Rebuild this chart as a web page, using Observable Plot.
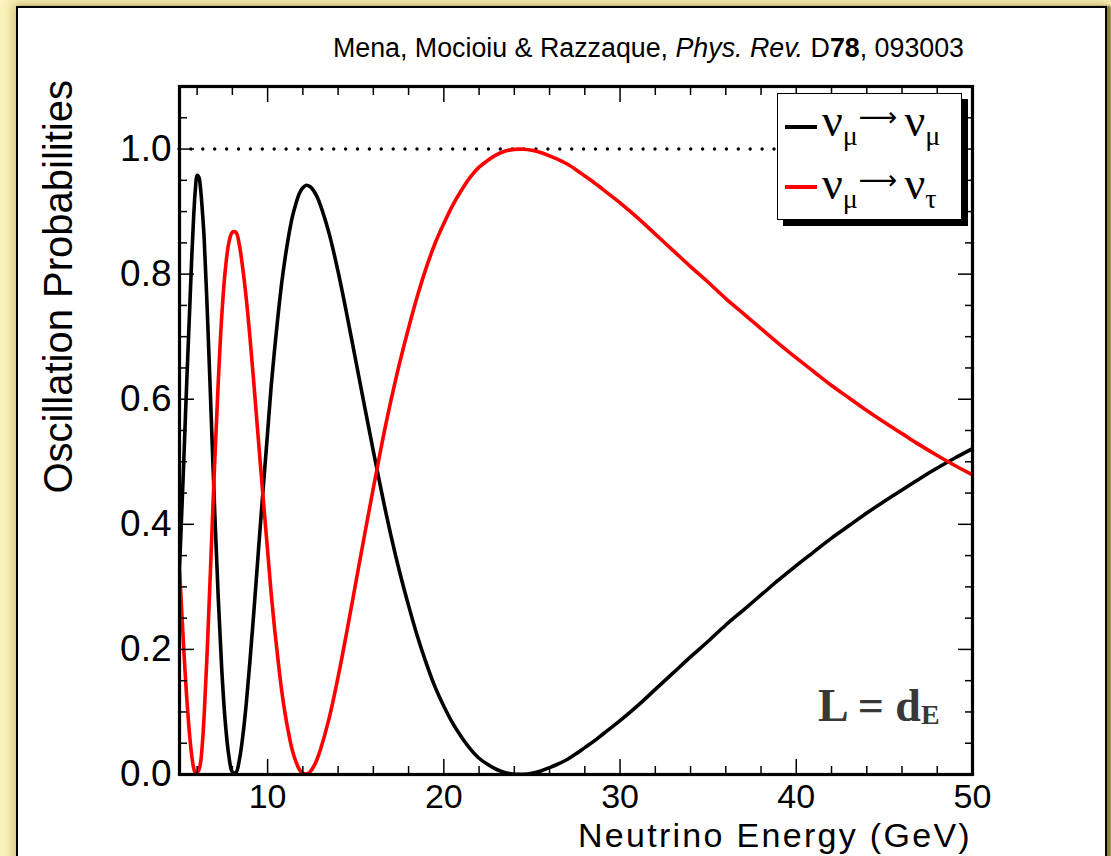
<!DOCTYPE html>
<html><head><meta charset="utf-8">
<script src="https://cdn.jsdelivr.net/npm/d3@7"></script>
<script src="https://cdn.jsdelivr.net/npm/@observablehq/plot@0.6"></script>
<style>
html,body{margin:0;padding:0;width:1111px;height:856px;overflow:hidden;background:#fcf3bd;font-family:"Liberation Sans",Arial,sans-serif;}
#panel{position:absolute;left:16px;top:6px;width:1087px;height:900px;background:#fff;border:2px solid #000;box-shadow:0 0 10px 3px rgba(170,150,60,0.55),4px 0 2px rgba(90,80,40,0.8);}
#chart{position:absolute;left:0;top:0;}
#cite{position:absolute;right:147px;top:35px;font-size:26.8px;line-height:26.8px;white-space:nowrap;color:#000;}
#ytitle{position:absolute;left:0;top:0;width:500px;height:40px;line-height:40px;font-size:40px;text-align:right;transform-origin:0 0;transform:translate(38px,580px) rotate(-90deg);white-space:nowrap;}
#xtitle{position:absolute;right:139px;top:820px;font-size:34px;letter-spacing:2.3px;line-height:30px;white-space:nowrap;}
#legend{position:absolute;left:777px;top:93px;width:183px;height:125px;border:1.5px solid #000;background:#fff;box-shadow:6px 6px 0 #000;}
.row{position:absolute;left:0;height:46px;line-height:46px;white-space:nowrap;font-family:"Liberation Serif","Times New Roman",serif;font-size:46px;}
.sw{position:absolute;left:7px;width:32px;height:4px;}
.txt{position:absolute;left:44px;top:0;}
.sub{font-size:28px;position:relative;top:9px;}
.arr{display:inline-block;font-family:"DejaVu Sans",sans-serif;font-size:27px;position:relative;top:-10px;margin-left:1px;margin-right:7px;}
#ld{position:absolute;left:818px;top:683px;font-family:"Liberation Serif",serif;font-weight:bold;font-size:46px;line-height:46px;color:#383838;white-space:nowrap;}
#ld .e{font-size:28px;position:relative;top:3px;}
</style></head>
<body>
<div id="panel"></div>
<div id="chart"></div>
<div id="cite">Mena, Mocioiu &amp; Razzaque, <i>Phys. Rev.</i> D<b>78</b>, 093003</div>
<div id="ytitle">Oscillation Probabilities</div>
<div id="xtitle">Neutrino Energy (GeV)</div>
<div id="legend">
  <div class="row" style="top:4px"><span class="sw" style="top:27px;background:#000"></span><span class="txt">ν<span class="sub">μ</span><span class="arr">⟶</span>ν<span class="sub">μ</span></span></div>
  <div class="row" style="top:67px"><span class="sw" style="top:24px;background:#ff0000"></span><span class="txt">ν<span class="sub">μ</span><span class="arr">⟶</span>ν<span class="sub">τ</span></span></div>
</div>
<div id="ld">L = d<span class="e">E</span></div>
<script>
const energy = [5.0,5.1,5.2,5.3,5.4,5.5,5.6,5.7,5.8,5.9,6.0,6.1,6.2,6.3,6.4,6.6,6.8,7.0,7.2,7.4,7.6,7.8,8.0,8.2,8.4,8.6,8.8,9.0,9.2,9.4,9.6,9.8,10.0,10.2,10.4,10.6,10.8,11.0,11.2,11.4,11.6,11.8,12.0,12.2,12.4,12.6,12.8,13.0,13.5,14,14.5,15,15.5,16,16.5,17,17.5,18,18.5,19,19.5,20,20.5,21,21.5,22,22.5,23,23.5,24,24.5,25,25.5,26,26.5,27,27.5,28,28.5,29,29.5,30,31,32,33,34,35,36,37,38,39,40,41,42,43,44,45,46,47,48,49,50];
const pMuMu = [0.33,0.40,0.47,0.545,0.62,0.69,0.76,0.83,0.89,0.935,0.958,0.955,0.935,0.90,0.857,0.724,0.572,0.419,0.282,0.167,0.083,0.030,0.004,0.003,0.024,0.063,0.117,0.182,0.253,0.328,0.403,0.476,0.547,0.620,0.681,0.736,0.786,0.827,0.862,0.891,0.912,0.929,0.938,0.942,0.940,0.934,0.924,0.910,0.864,0.804,0.735,0.662,0.589,0.517,0.447,0.382,0.323,0.270,0.221,0.178,0.140,0.109,0.082,0.060,0.041,0.026,0.016,0.008,0.003,0.0005,0.0003,0.002,0.0055,0.011,0.017,0.024,0.033,0.043,0.053,0.064,0.075,0.086,0.110,0.136,0.162,0.188,0.213,0.239,0.263,0.287,0.311,0.334,0.356,0.378,0.398,0.418,0.437,0.455,0.473,0.490,0.506,0.521];
const pMuTau = [0.33,0.275,0.222,0.172,0.127,0.088,0.055,0.029,0.011,0.002,0.003,0.007,0.02,0.05,0.095,0.216,0.358,0.501,0.628,0.734,0.807,0.850,0.867,0.867,0.846,0.807,0.758,0.698,0.632,0.562,0.492,0.424,0.358,0.290,0.232,0.181,0.134,0.096,0.065,0.039,0.021,0.008,0.002,0.001,0.004,0.012,0.024,0.040,0.091,0.156,0.229,0.306,0.383,0.458,0.531,0.598,0.659,0.714,0.765,0.810,0.849,0.881,0.910,0.934,0.955,0.971,0.982,0.991,0.997,0.9995,0.9997,0.998,0.9945,0.989,0.983,0.976,0.967,0.957,0.947,0.936,0.925,0.914,0.890,0.864,0.838,0.812,0.787,0.761,0.737,0.713,0.689,0.666,0.644,0.622,0.602,0.582,0.563,0.545,0.527,0.510,0.494,0.479];
const xMajor = [10,20,30,40,50];
const yMajor = [0,0.2,0.4,0.6,0.8,1.0];
const xMinor = d3.range(6,50.01,2).filter(v => v % 10 !== 0);
const yMinor = d3.range(0.05,1.1,0.05).filter(v => Math.abs(v*5 - Math.round(v*5)) > 1e-6);
const unity = [1.0];

const muMu = energy.map((e,i) => ({E:e, P:pMuMu[i]}));
const muTau = energy.map((e,i) => ({E:e, P:pMuTau[i]}));

const MAJ = 15, MIN = 8;
const chart = Plot.plot({
  width:1111, height:856,
  marginLeft:179, marginRight:139, marginTop:86, marginBottom:82,
  x:{domain:[5,50]},
  y:{domain:[0,1.1]},
  style:{background:"transparent", fontFamily:"'Liberation Sans', Arial, sans-serif", color:"#000", overflow:"visible"},
  marks:[
    Plot.ruleY(unity, {stroke:"#000", strokeWidth:3.4, strokeDasharray:"0,11.9", strokeLinecap:"round"}),
    Plot.line(muMu, {x:"E", y:"P", stroke:"#000", strokeWidth:3.6, curve:"catmull-rom", clip:true}),
    Plot.line(muTau, {x:"E", y:"P", stroke:"#ff0000", strokeWidth:3.6, curve:"catmull-rom", clip:true}),
    Plot.axisX(xMajor, {anchor:"bottom", tickSize:MAJ, dy:-MAJ, text:null, label:null, strokeWidth:1.5}),
    Plot.axisX(xMinor, {anchor:"bottom", tickSize:MIN, dy:-MIN, text:null, label:null, strokeWidth:1.5}),
    Plot.axisX(xMajor, {anchor:"top", tickSize:MAJ, dy:MAJ, text:null, label:null, strokeWidth:1.5}),
    Plot.axisX(xMinor, {anchor:"top", tickSize:MIN, dy:MIN, text:null, label:null, strokeWidth:1.5}),
    Plot.axisY(yMajor, {anchor:"left", tickSize:MAJ, dx:MAJ, text:null, label:null, strokeWidth:1.5}),
    Plot.axisY(yMinor, {anchor:"left", tickSize:MIN, dx:MIN, text:null, label:null, strokeWidth:1.5}),
    Plot.axisY(yMajor, {anchor:"right", tickSize:MAJ, dx:-MAJ, text:null, label:null, strokeWidth:1.5}),
    Plot.axisY(yMinor, {anchor:"right", tickSize:MIN, dx:-MIN, text:null, label:null, strokeWidth:1.5}),
    Plot.axisX(xMajor, {anchor:"bottom", tickSize:0, tickPadding:9, fontSize:34, label:null}),
    Plot.axisY(yMajor, {anchor:"left", tickSize:0, tickPadding:8, fontSize:37, label:null, tickFormat:d3.format(".1f")}),
    Plot.frame({stroke:"#000", strokeWidth:3.2})
  ]
});
document.getElementById("chart").appendChild(chart);
</script>
</body></html>
